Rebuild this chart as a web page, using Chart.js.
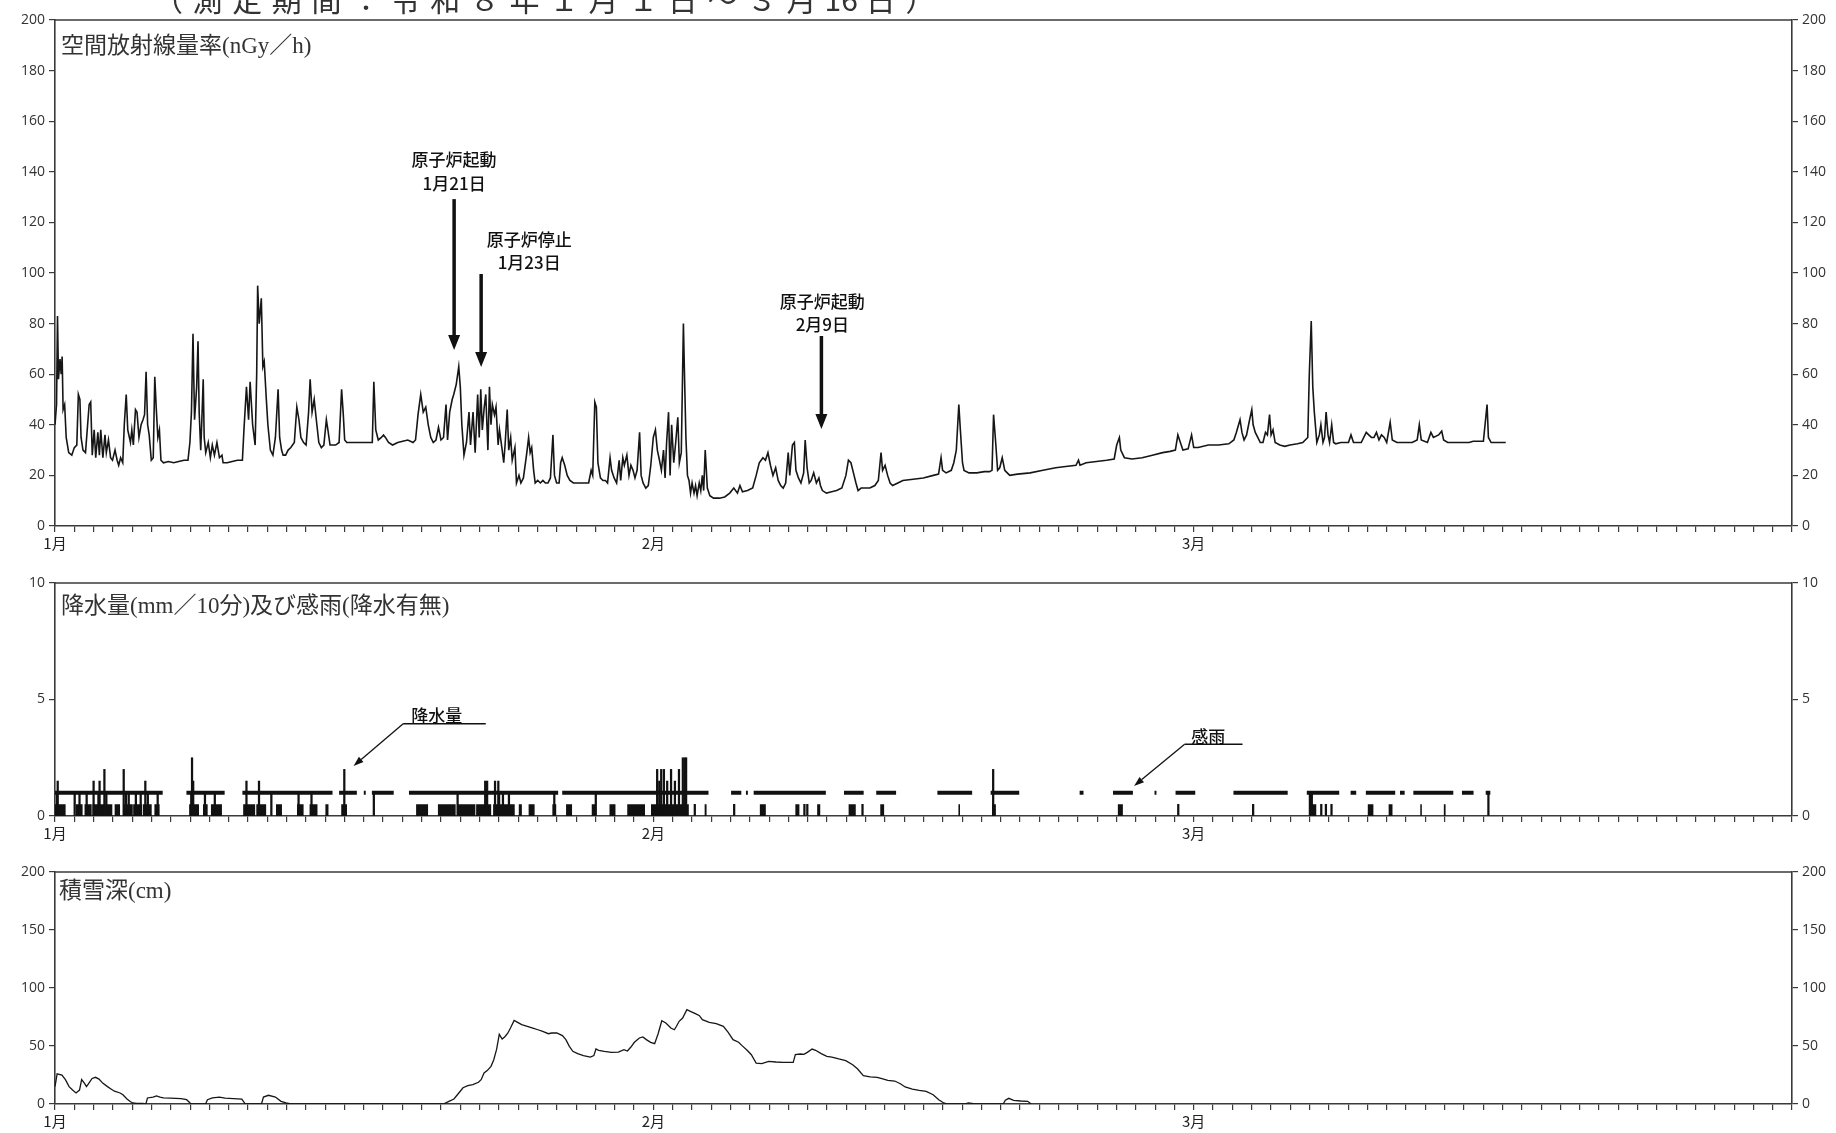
<!DOCTYPE html>
<html>
<head>
<meta charset="utf-8">
<script src="https://cdn.jsdelivr.net/npm/chart.js@4.4.1/dist/chart.umd.min.js"></script>
<style>
  html, body { margin: 0; padding: 0; background: #fff; }
  body { width: 1836px; height: 1133px; position: relative; overflow: hidden; }
  canvas { position: absolute; left: 0; }
</style>
</head>
<body>
<canvas id="rate" width="1836" height="560" style="top:0px"></canvas>
<canvas id="precip" width="1836" height="290" style="top:560px"></canvas>
<canvas id="snow" width="1836" height="283" style="top:850px"></canvas>
<script>
// ---- time axis: days since 1 January (0 = 1月1日 0時, 90 = 4月1日) ----
const dayMax = 90;
const monthTickDays = [0, 31, 59];
const monthTickLabels = ['1月', '2月', '3月'];

const headerTokens = ['（','測','定','期','間','：','令','和','８','年','１','月','１','日','～','３','月','16','日','）'];

// ---- 空間放射線量率 (nGy/h): [day, value] ----
const ratePoints = [
  [0,40],[0.08,48],[0.13,83],[0.18,58],[0.26,66],[0.32,60],[0.37,67],[0.42,46],[0.5,48],[0.58,35],[0.71,29],[0.87,28],
  [1,31],[1.13,32],[1.21,52],[1.29,50],[1.35,35],[1.45,30],[1.58,29],[1.69,40],[1.77,48],[1.85,49],[1.93,28],
  [2.03,38],[2.11,27],[2.22,37],[2.3,28],[2.37,38],[2.48,27],[2.59,36],[2.66,29],[2.77,34],[2.88,27],[2.98,26],
  [3.11,30],[3.22,26],[3.3,24],[3.4,27],[3.51,25],[3.59,40],[3.69,52],[3.77,38],[3.91,33],[3.98,38],
  [4.06,32],[4.17,46],[4.25,45],[4.35,35],[4.46,40],[4.56,42],[4.64,44],[4.72,61],[4.8,40],[4.88,36],[4.99,26],
  [5.09,27],[5.17,59],[5.25,46],[5.33,35],[5.41,38],[5.49,26],[5.62,25],[5.88,25.5],[6.15,25],[6.41,25.5],[6.68,26],[6.89,26],
  [6.99,33],[7.07,45],[7.15,76],[7.23,42],[7.34,55],[7.41,73],[7.47,45],[7.55,30],[7.6,40],[7.68,58],[7.73,35],[7.81,29],
  [7.94,33],[8.05,27],[8.15,32],[8.26,28],[8.39,33],[8.52,27],[8.65,28],[8.71,25],[8.92,25],[9.18,25.5],[9.45,26],[9.71,26],
  [9.79,38],[9.92,55],[10.03,42],[10.11,57],[10.24,40],[10.37,32],[10.45,60],[10.5,95],[10.58,80],[10.69,90],[10.77,63],
  [10.84,65],[10.95,50],[11.03,40],[11.16,30],[11.29,28],[11.42,35],[11.56,54],[11.64,35],[11.74,30],[11.82,28],[11.95,28],
  [12.08,30],[12.22,31],[12.4,33],[12.53,47],[12.64,42],[12.74,35],[12.88,33],[13.01,32],[13.14,45],[13.22,58],[13.32,45],
  [13.43,50],[13.54,42],[13.67,33],[13.8,31],[13.93,32],[14.06,42],[14.14,38],[14.25,32],[14.38,32],[14.54,32],[14.72,33],
  [14.85,54],[14.93,45],[15.01,34],[15.12,33],[15.38,33],[15.65,33],[15.91,33],[16.17,33],[16.44,33],[16.52,57],[16.62,38],
  [16.75,34],[16.91,35],[17.02,36],[17.12,35],[17.28,33],[17.49,32],[17.76,33],[18.02,33.5],[18.28,34],[18.55,33],[18.68,34],
  [18.81,44],[18.95,52],[19.08,45],[19.21,47],[19.34,40],[19.47,35],[19.6,33],[19.74,34],[19.87,39],[20,34],[20.13,35],
  [20.26,48],[20.34,34],[20.45,45],[20.58,50],[20.66,52],[20.79,56],[20.92,63],[21,55],[21.08,40],[21.19,28],[21.32,33],
  [21.45,45],[21.53,32],[21.66,45],[21.77,29],[21.9,52],[21.98,35],[22.06,54],[22.14,38],[22.24,47],[22.32,52],[22.43,30],
  [22.51,55],[22.59,40],[22.66,48],[22.77,44],[22.85,47],[22.96,32],[23.03,38],[23.17,30],[23.25,25],[23.32,32],[23.43,46],
  [23.51,30],[23.61,35],[23.69,26],[23.83,31],[23.91,17],[24.04,20],[24.14,17],[24.27,19],[24.43,28],[24.54,35],[24.62,29],
  [24.7,31],[24.8,22],[24.88,17],[25.01,18],[25.15,17],[25.28,18],[25.41,17],[25.54,17],[25.67,19],[25.8,36],[25.88,20],
  [25.99,17],[26.12,17],[26.2,25],[26.28,27],[26.41,24],[26.54,20],[26.68,18],[26.86,17],[27.04,17],[27.26,17],[27.39,17],
  [27.52,17],[27.65,17],[27.78,22],[27.86,20],[27.97,49],[28.05,47],[28.13,25],[28.26,19],[28.39,18],[28.52,18],[28.63,17],
  [28.76,27],[28.84,22],[28.97,19],[29.1,17],[29.23,26],[29.31,18],[29.42,27],[29.5,24],[29.63,28],[29.74,20],[29.84,24],
  [29.95,22],[30.05,19],[30.16,22],[30.29,37],[30.37,20],[30.47,17],[30.61,15],[30.74,16],[30.87,24],[31,35],[31.11,38],
  [31.21,30],[31.32,26],[31.42,22],[31.53,30],[31.61,19],[31.69,33],[31.79,45],[31.87,20],[31.95,40],[32.06,25],[32.16,33],
  [32.27,43],[32.35,25],[32.45,29],[32.56,80],[32.61,62],[32.69,35],[32.77,20],[32.85,18],[32.93,13],[33.01,17],[33.11,13],
  [33.19,16],[33.27,12],[33.38,17],[33.46,14],[33.54,20],[33.61,14],[33.69,30],[33.8,15],[33.93,12],[34.12,11],[34.43,11],
  [34.7,11.5],[34.96,13],[35.17,15],[35.36,13],[35.49,16],[35.62,13.5],[35.88,14],[36.15,15],[36.33,20],[36.49,25],[36.68,27],
  [36.81,26],[36.94,29],[37.07,24],[37.2,20],[37.34,23],[37.47,18],[37.6,16],[37.73,15],[37.86,17],[37.99,29],[38.07,20],
  [38.21,32],[38.31,33],[38.39,22],[38.52,19],[38.65,17],[38.79,21],[38.87,34],[38.97,23],[39.08,17],[39.18,18],[39.31,21],
  [39.45,17],[39.58,19],[39.66,16],[39.76,14],[39.97,13],[40.24,13.5],[40.5,14],[40.77,15],[40.98,20],[41.11,26],[41.24,25],
  [41.37,21],[41.5,17],[41.61,14],[41.77,15],[41.95,15],[42.22,15],[42.48,16],[42.66,18],[42.8,29],[42.88,22],[43.01,24],
  [43.14,20],[43.27,17],[43.4,16],[43.67,17],[43.93,18],[44.46,18.5],[44.99,19],[45.51,20],[45.78,20.5],[45.91,27],[45.99,22],
  [46.17,21],[46.44,22],[46.57,25],[46.7,30],[46.83,48],[46.91,38],[47.02,25],[47.1,22],[47.36,21],[47.76,21],[48.15,21.5],
  [48.42,21.5],[48.55,22],[48.63,44],[48.74,33],[48.84,22],[48.95,23],[49.08,27],[49.21,22],[49.34,21],[49.47,20],[49.87,20.5],
  [50.53,21],[51.19,22],[51.85,23],[52.37,23.5],[52.9,24],[53.03,26],[53.11,24],[53.43,25],[53.96,25.5],[54.49,26],[54.88,26.5],
  [55.01,32],[55.15,35],[55.22,30],[55.41,27],[55.8,26.5],[56.33,27],[56.86,28],[57.39,29],[57.78,29.5],[58.05,30],[58.18,36],
  [58.31,33],[58.44,30],[58.71,30.5],[58.89,36],[59,31],[59.23,31],[59.76,32],[60.29,32],[60.82,32.5],[61.08,34],[61.21,37],
  [61.4,42],[61.5,37],[61.61,34],[61.74,36],[61.87,41],[62.01,46],[62.08,40],[62.19,37],[62.32,35],[62.45,33],[62.59,33],
  [62.72,37],[62.82,36],[62.93,44],[63.01,36],[63.11,38],[63.22,33],[63.46,32],[63.72,31.5],[63.99,32],[64.38,32.5],[64.65,33],
  [64.78,34],[64.91,35],[64.99,60],[65.09,81],[65.17,55],[65.25,45],[65.38,33],[65.51,36],[65.59,40],[65.7,33],[65.78,35],
  [65.86,45],[65.96,36],[66.04,33],[66.15,40],[66.25,33],[66.36,32.5],[66.62,33],[67.02,33],[67.15,36],[67.28,33],[67.68,33],
  [67.94,37],[68.07,36],[68.21,35],[68.34,35],[68.47,37],[68.6,34],[68.73,36],[68.87,35],[69,33],[69.18,41],[69.29,34],
  [69.53,33],[69.79,33],[70.32,33],[70.58,34],[70.69,40],[70.79,34],[71.11,33],[71.29,37],[71.42,35],[71.69,36],[71.85,37.5],
  [71.95,34],[72.16,33],[72.69,33],[72.96,33],[73.27,33],[73.48,33.5],[74.01,33.5],[74.2,48],[74.27,35],[74.41,33],[74.75,33],[75.17,33]
];

// ---- 降水量 (mm/10分): spans of continuous 0.5 mm readings [start, end] ----
const precipHalfMmSpans = [
  [0,0.55],[1.08,1.43],[1.53,1.9],[1.94,2.56],[2.6,2.97],[3.09,3.37],[3.52,4.03],[4.05,4.52],[4.56,5.01],[5.15,5.42],
  [6.95,7.46],[7.67,7.91],[8.08,8.65],[9.75,10.37],[10.43,10.94],[11.45,11.76],[12.54,12.88],[13.19,13.6],[14.01,14.17],
  [14.83,15.13],[18.71,19.33],[19.84,20.76],[20.86,21.78],[21.82,22.6],[22.7,23.82],[24.03,24.19],[24.54,24.85],[25.77,25.97],
  [26.48,26.79],[27.81,28.02],[28.73,29.04],[29.65,30.57],[30.88,31.19],[31.22,32.84],[33.66,33.76],[36.52,36.83],[38.36,38.57],
  [39.49,39.65],[41.12,41.49],[42.76,42.96],[46.81,46.89],[48.55,48.75],[55.07,55.33],[65.02,65.35],[68.02,68.31],[69.1,69.3],
  [70.74,70.82],[71.96,72.06]
];
// ---- 降水量 (mm/10分): individual readings [day, mm] ----
const precipBars = [
  [0.1,1],[0.14,1.5],[1.02,1],[1.27,1],[1.64,1],[2.0,1.5],[2.25,1],[2.31,1.5],[2.56,2],[2.66,1],[3.56,2],[3.68,1],[3.82,1],
  [4.19,1],[4.44,1],[4.68,1.5],[4.81,1],[5.32,1],[7.06,1],[7.1,2.5],[7.16,1.5],[7.77,1],[8.28,1],[9.92,1.5],[10.57,1.5],
  [11.21,1],[12.62,1],[13.29,1],[14.99,2],[16.52,1],[20.86,1],[22.29,1.5],[22.39,1.5],[22.8,1.5],[22.97,1.5],[23.01,1],
  [23.21,1],[23.52,1],[25.87,1],[28.02,1],[31.2,2],[31.31,1.5],[31.41,2],[31.55,2],[31.72,1.5],[31.92,2],[32.12,1.5],
  [32.33,2],[32.53,2.5],[32.64,2.5],[32.7,2.5],[33.15,0.5],[35.19,0.5],[38.83,0.5],[38.98,0.5],[41.84,0.5],[48.61,2],
  [58.2,0.5],[62.08,0.5],[65.02,1],[65.12,1],[65.61,0.5],[65.85,0.5],[66.14,0.5],[74.27,1]
];
// ---- 感雨 (降水有無): periods with rain detected [start, end] ----
const rainSensed = [
  [0,5.58],[6.81,8.79],[9.71,14.38],[14.72,15.64],[16.0,16.1],[16.42,17.55],[18.34,26.07],[26.28,33.86],[35.03,35.56],
  [35.8,35.9],[36.2,39.94],[40.88,41.9],[42.55,43.58],[45.72,47.52],[48.48,49.96],[53.09,53.29],[54.82,55.85],[56.97,57.07],
  [58.06,59.08],[61.06,63.87],[64.86,66.54],[67.13,67.42],[67.92,69.44],[69.69,69.93],[70.38,72.45],[72.9,73.5],[74.13,74.37]
];
const rainFlagValue = 1;

// ---- 積雪深 (cm): [day, depth] ----
const snowPoints = [
  [0,15],[0.11,26],[0.36,25],[0.54,21],[0.73,15],[0.91,12],[1.09,9.5],[1.27,12],[1.38,21],[1.52,18],[1.63,15],[1.74,17.5],
  [1.92,22],[2.1,23],[2.28,21.5],[2.47,18],[2.72,15],[2.9,13],[3.08,11],[3.37,9.5],[3.52,8],[3.73,4.3],[3.88,2.3],[4.02,0.9],
  [4.24,0.6],[4.53,0.5],[4.71,0],[4.79,5.2],[5.08,6],[5.26,7],[5.44,6],[5.62,5.2],[5.98,5],[6.53,4.6],[6.82,3.7],[7,0.9],
  [7.07,0],[7.8,0],[7.9,3.7],[8.16,5.2],[8.52,6],[8.81,5],[9.25,4.6],[9.68,4.3],[9.86,0],[10.7,0],[10.8,6],[11.06,7.5],
  [11.42,6],[11.71,2.3],[11.97,0.9],[12.22,0],[20.12,0],[20.41,2.3],[20.67,4.3],[20.85,8],[21.14,14],[21.39,15.8],[21.65,16.7],
  [21.94,18.7],[22.08,21],[22.23,26.7],[22.41,29],[22.59,32.5],[22.73,38],[22.88,47],[23.02,60],[23.17,56],[23.31,58],
  [23.46,61],[23.6,65.5],[23.79,72],[23.97,70.4],[24.18,68.4],[24.47,67],[24.76,65.5],[25.02,64],[25.27,62.6],[25.56,60.6],
  [25.74,61.2],[26,61.2],[26.29,59],[26.47,55.5],[26.65,49.7],[26.83,45.4],[27.08,43.4],[27.38,41.7],[27.74,40.5],[27.92,41.7],
  [28.03,47.4],[28.17,46.3],[28.46,45.4],[28.83,44.5],[29.19,44.8],[29.48,46.8],[29.66,45.7],[29.84,49.1],[30.02,53.2],
  [30.28,56.9],[30.46,57.8],[30.64,55.5],[30.86,53.2],[31.07,52],[31.25,60.6],[31.44,71.8],[31.65,69.8],[31.91,65.5],
  [32.09,64],[32.2,67],[32.34,71.3],[32.52,74.1],[32.74,81.3],[32.92,79.9],[33.18,77.9],[33.39,76.1],[33.54,72.7],[33.9,70.4],
  [34.26,69.3],[34.63,67],[34.88,61.8],[35.13,55.5],[35.42,53.2],[35.64,49.7],[35.86,46.3],[36.08,42.5],[36.33,35.3],
  [36.62,34.8],[36.98,36.8],[37.35,36.2],[37.71,35.9],[38.07,35.9],[38.25,35.9],[38.36,42.5],[38.62,43.1],[38.8,42.8],
  [38.98,44.5],[39.23,47.4],[39.41,46.3],[39.7,43.4],[39.99,41.1],[40.25,40.5],[40.61,38.8],[40.97,37.4],[41.33,33.9],
  [41.59,30.2],[41.88,24.4],[42.24,23.3],[42.6,23],[42.89,21.6],[43.15,20.4],[43.51,19.8],[43.8,17.5],[44.05,14.7],
  [44.42,12.9],[44.78,11.8],[45.14,10.9],[45.5,8],[45.79,3.7],[46.05,0.9],[46.23,0],[47.14,0],[47.32,1],[47.5,0.5],[47.68,0],
  [49.13,0],[49.24,3.2],[49.42,4.9],[49.67,3.2],[50.04,2.6],[50.4,2.3],[50.58,0]
];

// ---- event notes on the dose-rate panel (positions in day / nGy/h) ----
const reactorNotes = [
  { lines: ['原子炉起動', '1月21日'], textDay: 20.68, textY: [144.7, 135.2], arrowDay: 20.68, arrowFrom: 129.2, arrowTo: 69.6 },
  { lines: ['原子炉停止', '1月23日'], textDay: 24.57, textY: [113.4, 104.3], arrowDay: 22.08, arrowFrom: 99.6, arrowTo: 62.8 },
  { lines: ['原子炉起動', '2月9日'],  textDay: 39.76, textY: [88.9, 79.8],   arrowDay: 39.71, arrowFrom: 75.1, arrowTo: 38.3 }
];
// ---- leader labels on the precipitation panel (positions in day / mm) ----
const precipNotes = [
  { label: '降水量', textDay: 19.78, textY: 4.33, lineFrom: 18.04, lineTo: 22.32, lineY: 3.96, tipDay: 15.47, tipY: 2.15 },
  { label: '感雨',   textDay: 59.75, textY: 3.40, lineFrom: 58.53, lineTo: 61.53, lineY: 3.08, tipDay: 55.91, tipY: 1.29 }
];

// ---------------------------------------------------------------------------
const axisColor = '#3a3a3a';
const inkColor = '#111';
const numFont = { family: '"Open Sans", "DejaVu Sans", sans-serif', size: 14 };
const monthFont = { family: '"Noto Sans CJK JP", sans-serif', size: 15 };
const titleFont = '23px "Liberation Serif", "Noto Sans CJK JP", serif';
const noteFont = '500 17px "Noto Sans CJK JP", sans-serif';

const toXY = pts => pts.map(([x, y]) => ({ x, y }));

function xAxis(height) {
  return {
    type: 'linear', min: 0, max: dayMax, offset: false,
    ticks: {
      stepSize: 1, autoSkip: false, maxRotation: 0, minRotation: 0, padding: 2,
      color: '#222', font: monthFont,
      callback: v => { const i = monthTickDays.indexOf(v); return i >= 0 ? monthTickLabels[i] : ''; }
    },
    grid: { drawOnChartArea: false, drawTicks: true, tickLength: 6, color: axisColor, lineWidth: 1.2, offset: false },
    border: { display: true, color: axisColor, width: 1.6 },
    afterFit: s => { s.height = height; }
  };
}
function yAxis(position, max, step, width) {
  return {
    type: 'linear', position, min: 0, max,
    ticks: { stepSize: step, padding: 4, color: '#333', font: numFont },
    grid: { drawOnChartArea: false, drawTicks: true, tickLength: 6, color: axisColor, lineWidth: 1.2 },
    border: { display: true, color: axisColor, width: 1.6 },
    afterFit: s => { s.width = width; }
  };
}

// frame top edge + panel caption + optional extra drawing
function panelDecor(id, caption, capDx, capDy, extra) {
  return {
    id,
    afterDraw(chart) {
      const { ctx, chartArea: a } = chart;
      ctx.save();
      ctx.strokeStyle = axisColor;
      ctx.lineWidth = 1.6;
      ctx.beginPath();
      ctx.moveTo(a.left, a.top);
      ctx.lineTo(a.right, a.top);
      ctx.stroke();
      ctx.fillStyle = '#333';
      ctx.font = titleFont;
      ctx.textAlign = 'left';
      ctx.textBaseline = 'middle';
      ctx.fillText(caption, a.left + capDx, a.top + capDy);
      if (extra) extra(chart, ctx);
      ctx.restore();
    }
  };
}

function downArrow(ctx, x, y1, y2, w, headW, headL) {
  ctx.lineWidth = w;
  ctx.beginPath();
  ctx.moveTo(x, y1);
  ctx.lineTo(x, y2 - headL + 1);
  ctx.stroke();
  ctx.beginPath();
  ctx.moveTo(x - headW / 2, y2 - headL);
  ctx.lineTo(x + headW / 2, y2 - headL);
  ctx.lineTo(x, y2);
  ctx.closePath();
  ctx.fill();
}

function leader(ctx, x1, y1, x2, y2, headW, headL) {
  const ang = Math.atan2(y2 - y1, x2 - x1);
  const bx = x2 - Math.cos(ang) * headL, by = y2 - Math.sin(ang) * headL;
  ctx.lineWidth = 1.3;
  ctx.beginPath();
  ctx.moveTo(x1, y1);
  ctx.lineTo(bx, by);
  ctx.stroke();
  const nx = -Math.sin(ang) * headW / 2, ny = Math.cos(ang) * headW / 2;
  ctx.beginPath();
  ctx.moveTo(bx + nx, by + ny);
  ctx.lineTo(bx - nx, by - ny);
  ctx.lineTo(x2, y2);
  ctx.closePath();
  ctx.fill();
}

function drawHeader(chart, ctx) {
  ctx.fillStyle = '#333';
  ctx.font = '30px "Noto Sans CJK JP", sans-serif';
  ctx.textAlign = 'center';
  ctx.textBaseline = 'alphabetic';
  headerTokens.forEach((t, i) => ctx.fillText(t, 168 + i * 39.6, 11));
}

function drawReactorNotes(chart, ctx) {
  const xs = chart.scales.x, ys = chart.scales.y;
  ctx.fillStyle = inkColor;
  ctx.strokeStyle = inkColor;
  ctx.font = noteFont;
  ctx.textAlign = 'center';
  ctx.textBaseline = 'middle';
  reactorNotes.forEach(n => {
    n.lines.forEach((ln, i) => ctx.fillText(ln, xs.getPixelForValue(n.textDay), ys.getPixelForValue(n.textY[i])));
    downArrow(ctx, xs.getPixelForValue(n.arrowDay), ys.getPixelForValue(n.arrowFrom), ys.getPixelForValue(n.arrowTo), 3.5, 12, 15);
  });
}

function drawPrecipNotes(chart, ctx) {
  const xs = chart.scales.x, ys = chart.scales.y;
  ctx.fillStyle = inkColor;
  ctx.strokeStyle = inkColor;
  ctx.font = noteFont;
  ctx.textAlign = 'center';
  ctx.textBaseline = 'middle';
  precipNotes.forEach(n => {
    ctx.fillText(n.label, xs.getPixelForValue(n.textDay), ys.getPixelForValue(n.textY));
    const ly = ys.getPixelForValue(n.lineY);
    const lx1 = xs.getPixelForValue(n.lineFrom), lx2 = xs.getPixelForValue(n.lineTo);
    ctx.lineWidth = 1.3;
    ctx.beginPath();
    ctx.moveTo(lx1, ly);
    ctx.lineTo(lx2, ly);
    ctx.stroke();
    leader(ctx, lx1, ly, xs.getPixelForValue(n.tipDay), ys.getPixelForValue(n.tipY), 7, 10);
  });
}

const baseOptions = (padTop, padBottom) => ({
  responsive: false, animation: false, devicePixelRatio: 1,
  layout: { padding: { top: padTop, bottom: padBottom, left: 0, right: 0 } },
  plugins: { legend: { display: false }, tooltip: { enabled: false } },
  elements: { point: { radius: 0 } }
});

// ---- panel 1: 空間放射線量率 ----
new Chart(document.getElementById('rate'), {
  type: 'line',
  data: {
    datasets: [{
      data: toXY(ratePoints), borderColor: '#161616', borderWidth: 1.6,
      pointRadius: 0, tension: 0, fill: false
    }]
  },
  options: {
    ...baseOptions(20, 4),
    scales: { x: xAxis(30), y: yAxis('left', 200, 20, 55), y2: yAxis('right', 200, 20, 44) }
  },
  plugins: [panelDecor('ratePanel', '空間放射線量率(nGy／h)', 6, 27, (c, ctx) => { drawHeader(c, ctx); drawReactorNotes(c, ctx); })]
});

// ---- panel 2: 降水量 及び 感雨 ----
// each span holds 0.5 mm from its start until its end, then drops back to 0
const halfMmSeries = [];
precipHalfMmSpans.forEach(([s, e]) => { halfMmSeries.push({ x: s, y: 0.5 }, { x: e, y: 0 }); });
const rainSeries = [];
rainSensed.forEach(([s, e]) => { rainSeries.push({ x: s, y: rainFlagValue }, { x: e, y: rainFlagValue }, { x: e, y: null }); });

new Chart(document.getElementById('precip'), {
  type: 'line',
  data: {
    datasets: [
      { type: 'line', data: halfMmSeries, stepped: 'before', fill: 'origin', backgroundColor: inkColor,
        borderWidth: 0, pointRadius: 0, order: 3 },
      { type: 'bar', data: toXY(precipBars), backgroundColor: inkColor, borderWidth: 0,
        barThickness: 1.6, grouped: false, order: 2 },
      { type: 'line', data: rainSeries, borderColor: inkColor, borderWidth: 4, borderCapStyle: 'butt',
        spanGaps: false, pointRadius: 0, fill: false, order: 1 }
    ]
  },
  options: {
    ...baseOptions(23, 4),
    scales: { x: xAxis(30), y: yAxis('left', 10, 5, 55), y2: yAxis('right', 10, 5, 44) }
  },
  plugins: [panelDecor('precipPanel', '降水量(mm／10分)及び感雨(降水有無)', 6, 24, drawPrecipNotes)]
});

// ---- panel 3: 積雪深 ----
new Chart(document.getElementById('snow'), {
  type: 'line',
  data: {
    datasets: [{
      data: toXY(snowPoints), borderColor: '#161616', borderWidth: 1.3,
      pointRadius: 0, tension: 0, fill: false
    }]
  },
  options: {
    ...baseOptions(22, 0),
    scales: { x: xAxis(29), y: yAxis('left', 200, 50, 55), y2: yAxis('right', 200, 50, 44) }
  },
  plugins: [panelDecor('snowPanel', '積雪深(cm)', 4, 20)]
});
</script>
</body>
</html>
